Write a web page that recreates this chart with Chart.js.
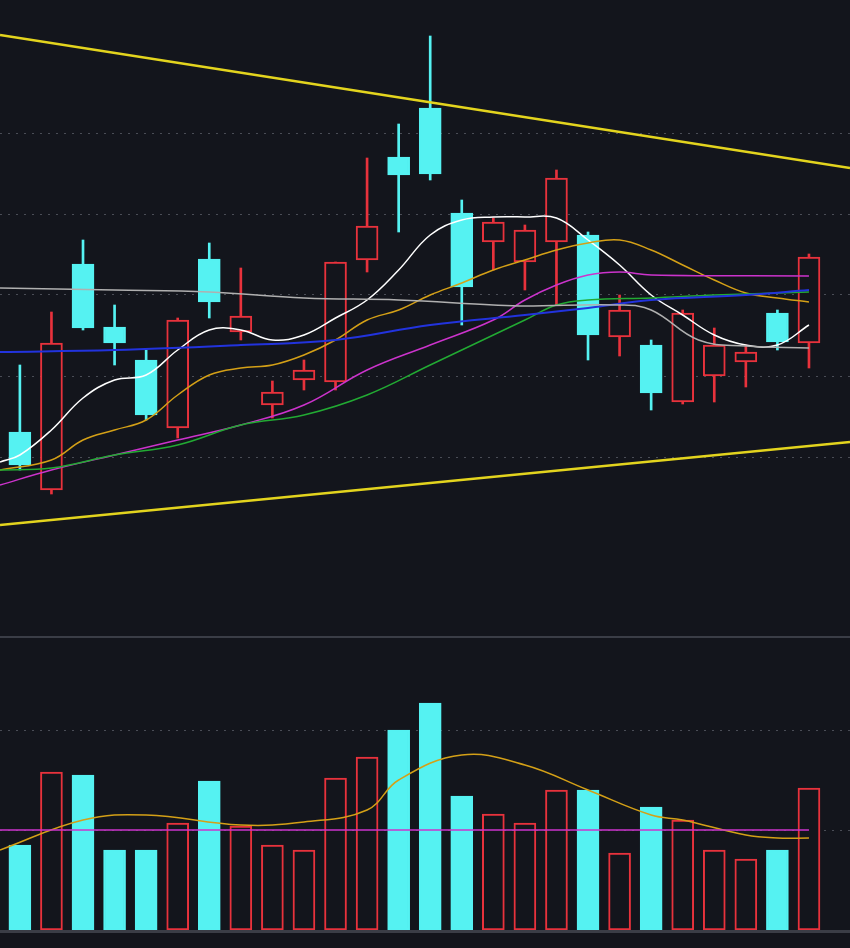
<!DOCTYPE html>
<html><head><meta charset="utf-8">
<script src="https://cdn.jsdelivr.net/npm/chart.js@4"></script>
<style>
html,body{margin:0;padding:0;background:#13151c;width:850px;height:948px;overflow:hidden}
#top{position:absolute;left:0;top:0;width:850px;height:636px}
#sep{position:absolute;left:0;top:636px;width:850px;height:2px;background:#3a3d46}
#bot{position:absolute;left:0;top:638px;width:850px;height:292px}
#base{position:absolute;left:0;top:930px;width:850px;height:3px;background:#3a3d46}
</style></head><body>
<div id="top"><canvas id="c1" width="850" height="636"></canvas></div>
<div id="sep"></div>
<div id="bot"><canvas id="c2" width="850" height="292"></canvas></div>
<div id="base"></div>
<script>
// price values (arbitrary units)
const opens  = [208,150,376,313,280,212,381,308,235,260,258,380,483,532,427,398,378,398,405,303,295,238,264,278,327,297];
const closes = [175,297,312,297,225,320,338,324,248,270,378,414,465,466,353,418,410,462,305,330,247,327,295,288,298,383];
const highs  = [275,328,400,335,290,322,397,372,259,280,378,482,516,604,440,422,415,470,408,345,300,330,312,295,330,386];
const lows   = [170,146,310,275,220,202,322,300,222,250,250,368,408,460,315,370,350,335,280,284,230,236,238,253,290,272];
const volumes= [85,158,155,80,80,107,149,104,85,80,152,173,200,227,134,116,107,140,140,77,123,110,80,71,80,142];
// moving averages, [index, value]
const ma5   = [[-0.63,178],[0,185],[1,210],[2,242],[3,260],[4,265],[5,290],[6,310],[7,310],[8,300],[9,305],[10,322],[11,340],[12,370],[13,405],[14,420],[15,423],[16,423],[17,422],[18,400],[19,375],[20,345],[21,325],[22,305],[23,295],[24,295],[25,315]];
const ma10  = [[-0.63,170],[1,180],[2,200],[3,210],[4,220],[5,245],[6,265],[7,272],[8,275],[9,285],[10,300],[11,320],[12,330],[13,345],[14,357],[15,370],[16,380],[17,390],[18,397],[19,400],[20,390],[21,375],[22,360],[23,347],[24,342],[25,338]];
const ma20  = [[-0.63,155],[1,170],[3,185],[5,200],[7,215],[9,235],[11,270],[13,295],[15,320],[16,340],[17,355],[18,365],[19,368],[20,365],[25,364]];
const ma30  = [[-0.63,170],[1,172],[3,185],[5,195],[7,215],[9,225],[11,245],[13,275],[15,305],[16,320],[17,335],[18,340],[20,342],[22,345],[25,348]];
const ma60  = [[-0.63,288],[3,290],[7,295],[10,300],[13,315],[16,325],[18,332],[20,340],[23,345],[25,350]];
const ma120 = [[-0.63,352],[3,350],[6,348],[9,342],[12,340],[15,335],[16,334],[19,335],[20,330],[21.5,300],[23,294],[25,292]];
const trendUp = [[-0.63,605],[26.3,472]];
const trendLo = [[-0.63,115],[26.3,198]];
const volMa = [[-0.63,80],[2,110],[4,115],[7,105],[9,108],[11,120],[12,150],[14,175],[16,165],[18,140],[20,115],[21,110],[23,95],[24,92],[25,92]];
const volMa2 = [[-0.63,100],[25,100]];
const gridTop = [183,264,345,426,507];
const gridBot = [100,200];

const CY='#55f2f2', RD='#e8323c';
const idx = opens.map((_,i)=>i);
const up = idx.map(i=>closes[i]>=opens[i]);
const pts = a=>a.map(p=>({x:p[0],y:p[1]}));
const line=(d,c,w)=>({type:'line',data:pts(d),borderColor:c,borderWidth:w||1.5,pointRadius:0,tension:0.4,fill:false,order:0});
const xs={type:'linear',min:-0.63,max:26.3,offset:false,display:false};

new Chart(document.getElementById('c1'),{
 type:'bar',
 data:{datasets:[
  line(trendUp,'#e3d41e',2.5), line(trendLo,'#e3d41e',2.5),
  line(ma120,'#b0b0b0'), line(ma60,'#2233dd',2), line(ma30,'#22aa33'), line(ma20,'#cc33cc'), line(ma10,'#d4a017'), line(ma5,'#ffffff'),
  {type:'bar',data:idx.map(i=>({x:i,y:[lows[i],highs[i]]})),backgroundColor:idx.map(i=>up[i]?RD:CY),barThickness:2,grouped:false,order:2},
  {type:'bar',data:idx.map(i=>({x:i,y:[opens[i],closes[i]]})),backgroundColor:idx.map(i=>up[i]?'#13151c':CY),borderColor:idx.map(i=>up[i]?RD:CY),borderWidth:2,borderSkipped:false,barThickness:22,grouped:false,order:1}
 ]},
 options:{responsive:false,animation:false,layout:{padding:0},plugins:{legend:{display:false},tooltip:{enabled:false}},
  scales:{x:xs,y:{min:4,max:640,display:true,ticks:{display:false},afterBuildTicks:s=>{s.ticks=gridTop.map(v=>({value:v}))},
   grid:{color:'#4a4d56',lineWidth:1,drawTicks:false},border:{display:false,dash:[2,6]}}}}
});

new Chart(document.getElementById('c2'),{
 type:'bar',
 data:{datasets:[
  line(volMa2,'#cc33cc'), line(volMa,'#d4a017'),
  {type:'bar',data:idx.map(i=>({x:i,y:volumes[i]})),backgroundColor:idx.map(i=>up[i]?'#13151c':CY),borderColor:idx.map(i=>up[i]?RD:CY),borderWidth:2,borderSkipped:false,barThickness:22,grouped:false,order:1}
 ]},
 options:{responsive:false,animation:false,layout:{padding:0},plugins:{legend:{display:false},tooltip:{enabled:false}},
  scales:{x:{...xs},y:{min:0,max:292,display:true,ticks:{display:false},afterBuildTicks:s=>{s.ticks=gridBot.map(v=>({value:v}))},
   grid:{color:'#4a4d56',lineWidth:1,drawTicks:false},border:{display:false,dash:[2,6]}}}}
});
</script></body></html>
